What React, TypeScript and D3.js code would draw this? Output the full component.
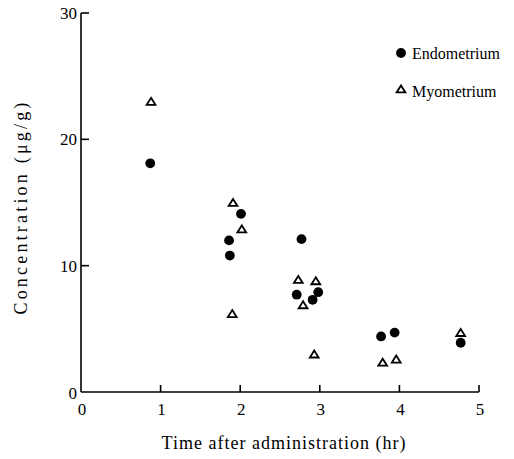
import React from 'react';
import * as d3 from 'd3';

// Endometrium (filled circles)
const endoTime = [0.87, 1.86, 1.87, 2.01, 2.77, 2.71, 2.91, 2.98, 3.77, 3.94, 4.77];
const endoConc = [18.1, 12.0, 10.8, 14.1, 12.1, 7.7, 7.3, 7.9, 4.4, 4.7, 3.9];

// Myometrium (open triangles)
const myoTime = [0.88, 1.91, 2.02, 1.9, 2.73, 2.95, 2.79, 2.93, 3.79, 3.96, 4.77];
const myoConc = [23.0, 15.0, 12.9, 6.2, 8.9, 8.8, 6.9, 3.0, 2.35, 2.6, 4.7];

const xTicks = [0, 1, 2, 3, 4, 5];
const yTicks = [0, 10, 20, 30];

const width = 514;
const height = 459;
const font = '"Liberation Serif", "DejaVu Serif", serif';

const App = () => {
  const x = d3.scaleLinear().domain([0, 5]).range([81, 479]);
  const y = d3.scaleLinear().domain([0, 30]).range([392, 13]);

  // small open triangle centred on the point
  const tri = (cx: number, cy: number) =>
    `M${cx},${cy - 3.6}L${cx + 4.4},${cy + 3.4}L${cx - 4.4},${cy + 3.4}Z`;

  return (
    <svg width={width} height={height} style={{ position: 'absolute', left: 0, top: 0, background: '#fff' }}>
      {/* axes */}
      <line x1={x(0)} x2={x(0)} y1={y(0)} y2={y(30)} stroke="#000" strokeWidth={1.6} />
      <line x1={x(0)} x2={x(5)} y1={y(0)} y2={y(0)} stroke="#000" strokeWidth={1.6} />

      {yTicks.map((t) => (
        <g key={'y' + t}>
          {t > 0 && <line x1={x(0)} x2={x(0) + 8} y1={y(t)} y2={y(t)} stroke="#000" strokeWidth={1.6} />}
          <text x={x(0) - 4} y={y(t) + (t === 0 ? 7 : 6)} textAnchor="end" fontFamily={font} fontSize={17}>
            {t}
          </text>
        </g>
      ))}

      {xTicks.map((t) => (
        <g key={'x' + t}>
          {t > 0 && <line x1={x(t)} x2={x(t)} y1={y(0)} y2={y(0) - 7} stroke="#000" strokeWidth={1.6} />}
          <text x={x(t) + 1} y={415} textAnchor="middle" fontFamily={font} fontSize={17}>
            {t}
          </text>
        </g>
      ))}

      {/* axis titles */}
      <text x={284} y={449} textAnchor="middle" fontFamily={font} fontSize={18} letterSpacing={1}>
        Time after administration (hr)
      </text>
      <text
        transform={`translate(27, 207) rotate(-90)`}
        textAnchor="middle"
        fontFamily={font}
        fontSize={18}
        letterSpacing={3.2}
      >
        Concentration (μg/g)
      </text>

      {/* data */}
      {endoTime.map((t, i) => (
        <circle key={'e' + i} cx={x(t)} cy={y(endoConc[i])} r={4.9} fill="#000" />
      ))}
      {myoTime.map((t, i) => (
        <path
          key={'m' + i}
          d={tri(x(t), y(myoConc[i]))}
          fill="#fff"
          stroke="#000"
          strokeWidth={1.8}
        />
      ))}

      {/* legend */}
      <circle cx={401} cy={53} r={4.9} fill="#000" />
      <text x={412} y={59} fontFamily={font} fontSize={16}>
        Endometrium
      </text>
      <path d={tri(401, 89)} fill="#fff" stroke="#000" strokeWidth={1.8} />
      <text x={412} y={97} fontFamily={font} fontSize={16}>
        Myometrium
      </text>
    </svg>
  );
};

export default App;
